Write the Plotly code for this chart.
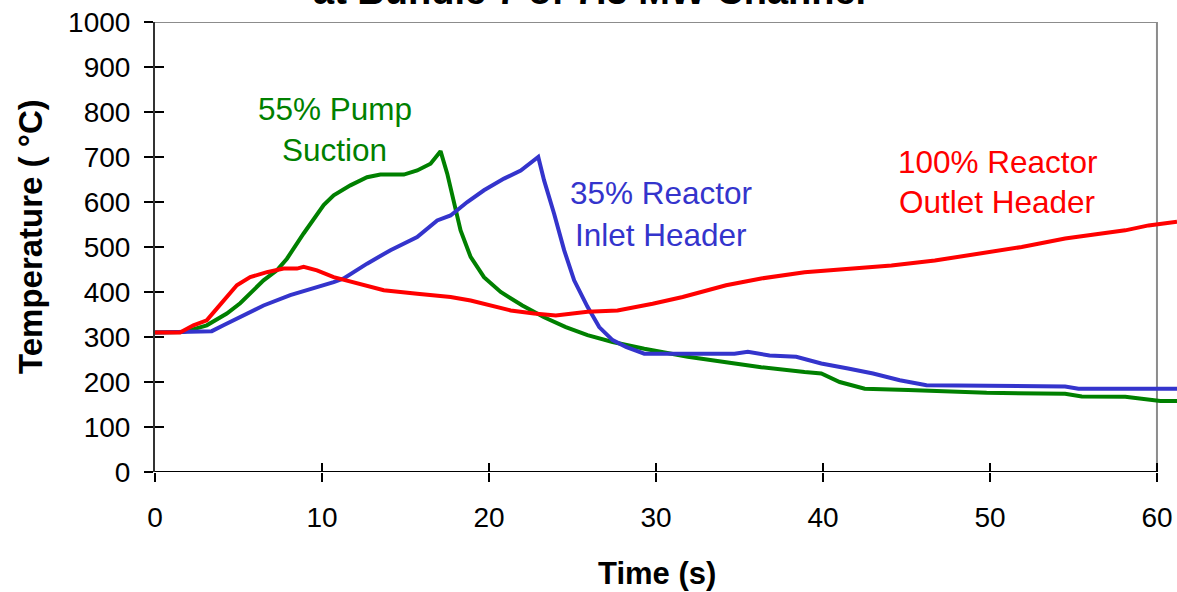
import plotly.graph_objects as go

# ---- data ----
pump_t = [0, 1.7, 3.1, 4.3, 5.1, 6.5, 7.3, 7.9, 8.9, 9.5, 10.1, 10.7, 11.7, 12.7, 13.5, 14.9, 15.7,
          16.5, 17.1, 17.5, 17.9, 18.3, 18.9, 19.7, 20.7, 22.0, 23.3, 24.6, 25.9, 27.4, 29.3, 31.9,
          34.2, 36.3, 38.9, 39.9, 41.0, 42.5, 45.1, 49.8, 54.5, 55.5, 58.1, 60.2, 61.2]
pump_T = [310, 311, 326, 352, 375, 426, 448, 474, 530, 563, 593, 615, 637, 655, 661, 661, 670,
          685, 713, 663, 596, 537, 478, 433, 400, 370, 344, 322, 304, 289, 274, 256,
          244, 233, 222, 219, 200, 185, 182, 176, 174, 168, 167, 158, 158]

inlet_t = [0, 3.4, 4.1, 5.1, 6.5, 8.1, 9.5, 10.7, 11.3, 12.7, 14.1, 15.7, 16.9, 17.7, 18.7, 19.7,
           20.9, 21.9, 22.95, 23.3, 23.9, 24.5, 25.1, 25.9, 26.6, 27.4, 28.2, 29.3, 32.4, 34.7,
           35.5, 36.8, 38.4, 39.9, 41.5, 43.0, 44.6, 46.2, 54.5, 55.3, 61.2]
inlet_T = [310, 313, 326, 344, 370, 393, 408, 422, 430, 463, 493, 522, 559, 570, 600, 626,
           652, 670, 700, 648, 574, 493, 426, 367, 322, 293, 278, 263, 263, 263,
           267, 259, 256, 241, 230, 219, 204, 193, 190, 185, 185]

outlet_t = [0, 1.5, 2.3, 3.1, 3.7, 4.3, 4.9, 5.7, 6.7, 7.7, 8.5, 8.9, 9.7, 10.7, 12.1, 13.7, 15.7,
            17.7, 18.9, 20.1, 21.3, 22.7, 24.0, 25.9, 27.7, 29.8, 31.6, 34.2, 36.3, 38.9, 41.5,
            44.1, 46.7, 49.3, 51.9, 54.5, 58.1, 59.5, 61.2]
outlet_T = [310, 310, 326, 337, 363, 389, 415, 433, 444, 452, 452, 456, 448, 433, 419, 404, 396,
            389, 381, 370, 359, 352, 348, 356, 359, 374, 389, 415, 430, 444, 452,
            459, 470, 485, 500, 519, 537, 548, 556]

x_ticks = [0, 10, 20, 30, 40, 50, 60]
y_ticks = [0, 100, 200, 300, 400, 500, 600, 700, 800, 900, 1000]

FONT = "Arial, Liberation Sans, sans-serif"
GREEN = "#008000"
BLUE = "#3434CC"
RED = "#FF0000"

fig = go.Figure()
fig.add_trace(go.Scatter(x=pump_t, y=pump_T, mode="lines", line=dict(color=GREEN, width=4),
                         name="55% Pump Suction"))
fig.add_trace(go.Scatter(x=inlet_t, y=inlet_T, mode="lines", line=dict(color=BLUE, width=4),
                         name="35% Reactor Inlet Header"))
fig.add_trace(go.Scatter(x=outlet_t, y=outlet_T, mode="lines", line=dict(color=RED, width=4),
                         name="100% Reactor Outlet Header"))
# helper trace for the inner half of the crossing tick marks
fig.add_trace(go.Scatter(x=[None], y=[None], xaxis="x2", yaxis="y2", showlegend=False,
                         hoverinfo="skip"))

xmax = 61.2
fig.update_layout(
    width=1177, height=592,
    margin=dict(l=155, r=0, t=22, b=120, autoexpand=False),
    paper_bgcolor="white", plot_bgcolor="white",
    showlegend=False,
    font=dict(family=FONT, color="black"),
    xaxis=dict(range=[0, xmax], tickvals=x_ticks, ticks="outside", ticklen=9, tickwidth=1.5,
               tickcolor="black", showline=False, showgrid=False, zeroline=False,
               tickfont=dict(size=28, family=FONT), ticklabelstandoff=11, automargin=False),
    yaxis=dict(range=[0, 1000], tickvals=y_ticks, ticks="outside", ticklen=9, tickwidth=1.5,
               tickcolor="black", showline=True, linecolor="#333333", linewidth=2,
               showgrid=False, zeroline=False, tickfont=dict(size=28, family=FONT),
               ticklabelstandoff=8, automargin=False),
    xaxis2=dict(range=[0, xmax], tickvals=x_ticks, ticks="inside", ticklen=9, tickwidth=1.5,
                tickcolor="black", overlaying="x", anchor="y", side="bottom",
                showticklabels=False, showline=False, showgrid=False, zeroline=False),
    yaxis2=dict(range=[0, 1000], tickvals=y_ticks, ticks="inside", ticklen=9, tickwidth=1.5,
                tickcolor="black", overlaying="y", anchor="x", side="left",
                showticklabels=False, showline=False, showgrid=False, zeroline=False),
)

# frame: black x axis line up to 60 s, grey top and right border
fig.add_shape(type="line", x0=0, x1=x_ticks[-1], y0=y_ticks[-1], y1=y_ticks[-1],
              line=dict(color="#8c8c8c", width=2), layer="below")
fig.add_shape(type="line", x0=x_ticks[-1], x1=x_ticks[-1], y0=0, y1=y_ticks[-1],
              line=dict(color="#8c8c8c", width=2), layer="below")
fig.add_shape(type="line", x0=0, x1=x_ticks[-1], y0=0, y1=0,
              line=dict(color="black", width=2), layer="above")

# series labels
labels = [
    ("55% Pump", 10.8, 807, GREEN), ("Suction", 10.75, 715, GREEN),
    ("35% Reactor", 30.3, 619, BLUE), ("Inlet Header", 30.3, 526, BLUE),
    ("100% Reactor", 50.5, 690, RED), ("Outlet Header", 50.4, 600, RED),
]
for txt, lx, ly, col in labels:
    fig.add_annotation(text=txt, x=lx, y=ly, xref="x", yref="y", showarrow=False,
                       font=dict(size=31.5, color=col, family=FONT), xanchor="center",
                       yanchor="middle")

# axis titles
fig.add_annotation(text="<b>Time (s)</b>", x=(657 - 155) / 1022, y=0, xref="paper", yref="paper",
                   yshift=-(573 - 472), showarrow=False, xanchor="center", yanchor="middle",
                   font=dict(size=31, family=FONT, color="black"))
fig.add_annotation(text="<b>Temperature ( °C)</b>", x=0, y=(472 - 237) / 450, xref="paper",
                   yref="paper", xshift=-(155 - 31), showarrow=False, textangle=-90,
                   xanchor="center", yanchor="middle",
                   font=dict(size=33, family=FONT, color="black"))

# clipped chart title (only its lower part is visible in the reference)
fig.add_annotation(text="<b>at Bundle 7 of 7.3 MW Channel</b>", x=(589 - 155) / 1022, y=1,
                   xref="paper", yref="paper", yshift=31, showarrow=False, xanchor="center",
                   yanchor="middle", font=dict(size=38, family=FONT, color="black"))

fig.write_html("out.html", config={"displayModeBar": False},
               post_script="document.body.style.margin='0';")
